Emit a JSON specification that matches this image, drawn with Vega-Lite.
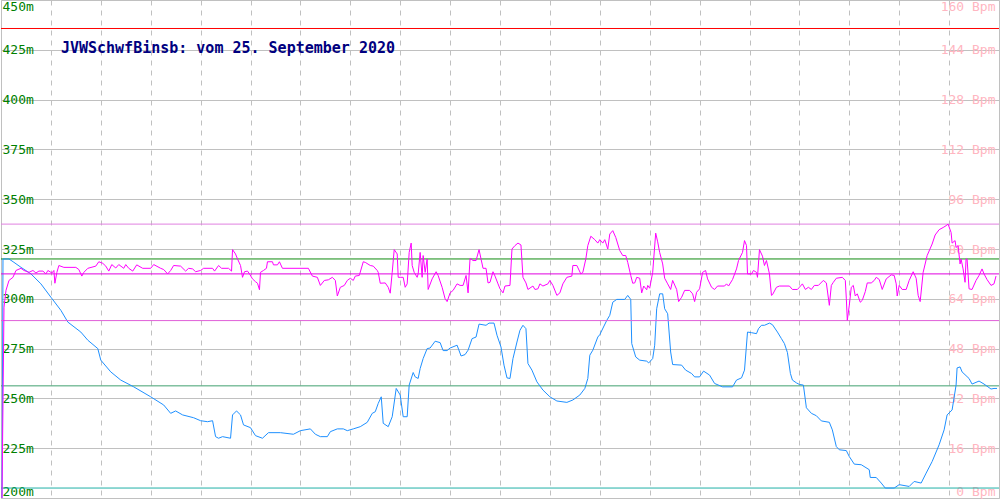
{
  "$schema": "https://vega.github.io/schema/vega-lite/v6.json",
  "width": 1000,
  "height": 500,
  "autosize": {"type": "fit", "contains": "padding"},
  "padding": 0,
  "background": "white",
  "config": {
    "view": {"stroke": "#c0c0c0"},
    "axis": {"labelFont": "DejaVu Sans Mono", "labelFontSize": 13, "labelOverlap": false}
  },
  "datasets": {
    "alt": [
      {"t":1,"alt":200},{"t":2,"alt":320},{"t":8,"alt":320},{"t":13,"alt":318.3},{"t":20,"alt":315.8},{"t":30,"alt":312.5},{"t":40,"alt":307.5},{"t":50,"alt":300.8},{"t":60,"alt":294.2},{"t":67,"alt":288.3},{"t":80,"alt":283.3},{"t":87,"alt":279.2},{"t":97,"alt":275},{"t":100,"alt":269.2},{"t":110,"alt":263.3},{"t":120,"alt":259.2},{"t":133,"alt":255.8},{"t":150,"alt":250.8},{"t":163,"alt":246.7},{"t":170,"alt":242.5},{"t":175,"alt":243.7},{"t":182,"alt":241.7},{"t":193,"alt":240.3},{"t":200,"alt":238.8},
      {"t":207,"alt":238.3},{"t":212,"alt":238.8},{"t":215,"alt":230.8},{"t":218,"alt":230},{"t":222,"alt":230.8},{"t":230,"alt":230},{"t":232,"alt":241.7},{"t":236,"alt":243.7},{"t":240,"alt":241.7},{"t":243,"alt":236.7},{"t":250,"alt":235.3},{"t":255,"alt":231.3},{"t":262,"alt":230},{"t":268,"alt":232.8},{"t":280,"alt":232.8},{"t":293,"alt":232},{"t":300,"alt":233.8},{"t":310,"alt":234.7},{"t":315,"alt":232},{"t":320,"alt":230.8},{"t":327,"alt":230.8},{"t":330,"alt":233.3},{"t":337,"alt":234.7},{"t":343,"alt":234.7},{"t":347,"alt":233.8},{"t":353,"alt":234.7},{"t":360,"alt":235.8},{"t":367,"alt":238},{"t":372,"alt":242.5},{"t":375,"alt":243.3},{"t":378,"alt":247.5},{"t":381,"alt":250.8},{"t":383,"alt":237.5},{"t":388,"alt":235.8},{"t":392,"alt":240.8},{"t":396,"alt":255},{"t":400,"alt":251.7},
      {"t":403,"alt":240.8},{"t":407,"alt":240.8},{"t":409,"alt":256.7},{"t":413,"alt":263},{"t":415,"alt":260.8},{"t":418,"alt":260},{"t":420,"alt":265},{"t":423,"alt":270},{"t":427,"alt":275},{"t":430,"alt":275.3},{"t":435,"alt":278.7},{"t":440,"alt":278},{"t":443,"alt":274},{"t":447,"alt":274},{"t":450,"alt":275.3},{"t":457,"alt":276.7},{"t":461,"alt":271.3},{"t":465,"alt":272},{"t":468,"alt":274.2},{"t":472,"alt":280},{"t":476,"alt":280.8},{"t":479,"alt":287.3},{"t":486,"alt":286.7},{"t":489,"alt":287.8},{"t":494,"alt":287.8},{"t":497,"alt":281.7},{"t":501,"alt":275.8},{"t":504,"alt":266.7},{"t":507,"alt":260.3},{"t":510,"alt":260},{"t":513,"alt":270},{"t":517,"alt":278.3},{"t":520,"alt":284.2},{"t":523,"alt":286.7},{"t":526,"alt":285},{"t":528,"alt":267.5},{"t":532,"alt":264.2},{"t":537,"alt":258.3},{"t":543,"alt":254.2},{"t":550,"alt":250.8},{"t":557,"alt":248.7},{"t":567,"alt":248},{"t":573,"alt":249.2},{"t":580,"alt":251.7},{"t":585,"alt":255},{"t":588,"alt":260},{"t":590,"alt":271.7},{"t":593,"alt":274.2},{"t":598,"alt":280.8},
      {"t":600,"alt":282},{"t":607,"alt":289.2},{"t":610,"alt":291.7},{"t":613,"alt":298.3},{"t":617,"alt":299.7},{"t":625,"alt":299.7},{"t":628,"alt":301.7},{"t":631,"alt":299.7},{"t":632,"alt":277.5},{"t":636,"alt":270.8},{"t":640,"alt":269.2},{"t":647,"alt":268.7},{"t":649,"alt":267.8},{"t":653,"alt":270},{"t":655,"alt":276.7},{"t":657,"alt":295},{"t":660,"alt":302.5},{"t":663,"alt":302.5},{"t":665,"alt":295},{"t":668,"alt":292.5},{"t":671,"alt":273.3},{"t":673,"alt":267},{"t":682,"alt":266.7},{"t":686,"alt":264.2},{"t":692,"alt":262.5},{"t":695,"alt":260.8},{"t":700,"alt":260.8},{"t":704,"alt":263.7},{"t":710,"alt":261.7},{"t":715,"alt":257.5},{"t":723,"alt":255.8},{"t":733,"alt":255.8},{"t":737,"alt":259.2},{"t":742,"alt":260.3},{"t":745,"alt":264.2},{"t":748,"alt":283.3},{"t":752,"alt":283},{"t":757,"alt":282.5},{"t":759,"alt":285},{"t":762,"alt":286.7},{"t":765,"alt":286.7},{"t":770,"alt":287.8},{"t":773,"alt":287},{"t":778,"alt":283.3},{"t":782,"alt":280},{"t":785,"alt":277.5},{"t":788,"alt":273},{"t":791,"alt":262.5},{"t":793,"alt":259.2},{"t":797,"alt":257.8},
      {"t":800,"alt":257},{"t":804,"alt":256.7},{"t":807,"alt":245.3},{"t":812,"alt":242.5},{"t":817,"alt":241.3},{"t":822,"alt":238.7},{"t":830,"alt":238},{"t":833,"alt":234.2},{"t":837,"alt":225.8},{"t":840,"alt":224.2},{"t":847,"alt":223.8},{"t":850,"alt":220.8},{"t":855,"alt":217},{"t":862,"alt":216.7},{"t":870,"alt":214.2},{"t":871,"alt":210.3},{"t":877,"alt":210.3},{"t":882,"alt":207.5},{"t":886,"alt":205},{"t":895,"alt":205},{"t":900,"alt":206.7},{"t":910,"alt":205.8},{"t":915,"alt":208.3},{"t":922,"alt":207.5},{"t":927,"alt":212.5},{"t":933,"alt":218.3},{"t":940,"alt":226.7},{"t":945,"alt":234.2},{"t":948,"alt":241.7},{"t":953,"alt":244.2},{"t":957,"alt":256.7},{"t":958,"alt":265.3},{"t":961,"alt":265.8},{"t":963,"alt":263.3},{"t":970,"alt":260},{"t":973,"alt":257.2},{"t":980,"alt":258.7},{"t":985,"alt":257.2},{"t":992,"alt":254.7},{"t":995,"alt":255},{"t":998,"alt":255}
    ],
    "hr": [
      {"t":1,"hr":0},{"t":3,"hr":61.3},{"t":5,"hr":66.7},{"t":8,"hr":69.9},{"t":12,"hr":70.9},{"t":15,"hr":73.1},{"t":20,"hr":73.8},{"t":23,"hr":73.1},{"t":28,"hr":72.5},{"t":32,"hr":73.1},{"t":35,"hr":72.3},{"t":38,"hr":72.9},{"t":42,"hr":72.9},{"t":45,"hr":72.0},{"t":47,"hr":73.1},{"t":51,"hr":72.3},{"t":53,"hr":73.1},{"t":54,"hr":69.0},{"t":56,"hr":72.5},{"t":58,"hr":74.7},{"t":63,"hr":74.1},{"t":75,"hr":74.1},{"t":78,"hr":73.4},{"t":81,"hr":71.3},{"t":83,"hr":72.5},{"t":87,"hr":73.8},{"t":95,"hr":74.5},{"t":98,"hr":75.9},{"t":102,"hr":75.4},{"t":105,"hr":74.5},{"t":108,"hr":72.9},{"t":111,"hr":75.0},{"t":115,"hr":73.9},{"t":118,"hr":75.0},{"t":123,"hr":73.8},{"t":125,"hr":75.0},{"t":128,"hr":73.8},{"t":132,"hr":72.9},{"t":136,"hr":74.9},{"t":142,"hr":73.8},{"t":150,"hr":73.8},{"t":153,"hr":75.0},{"t":160,"hr":73.8},{"t":163,"hr":73.4},{"t":167,"hr":72.0},{"t":170,"hr":73.1},{"t":173,"hr":74.7},{"t":180,"hr":74.5},{"t":185,"hr":72.9},{"t":188,"hr":73.8},{"t":192,"hr":73.6},{"t":195,"hr":72.7},{"t":200,"hr":73.1},
      {"t":203,"hr":73.8},{"t":212,"hr":73.8},{"t":214,"hr":72.9},{"t":218,"hr":74.7},{"t":221,"hr":73.8},{"t":228,"hr":73.8},{"t":231,"hr":72.9},{"t":232,"hr":79.8},{"t":235,"hr":78.4},{"t":237,"hr":76.8},{"t":240,"hr":74.7},{"t":242,"hr":70.9},{"t":244,"hr":72.7},{"t":247,"hr":72.9},{"t":249,"hr":72.0},{"t":252,"hr":70.4},{"t":255,"hr":69.5},{"t":257,"hr":69.0},{"t":259,"hr":66.9},{"t":260,"hr":72.5},{"t":263,"hr":73.1},{"t":266,"hr":73.8},{"t":267,"hr":75.9},{"t":272,"hr":75.9},{"t":273,"hr":74.9},{"t":277,"hr":74.9},{"t":279,"hr":75.9},{"t":282,"hr":73.8},{"t":308,"hr":73.8},{"t":312,"hr":71.3},{"t":317,"hr":70.9},{"t":320,"hr":68.3},{"t":324,"hr":69.9},{"t":328,"hr":70.1},{"t":332,"hr":70.9},{"t":335,"hr":69.9},{"t":337,"hr":64.9},{"t":340,"hr":67.7},{"t":344,"hr":68.3},{"t":347,"hr":69.9},{"t":350,"hr":70.6},{"t":353,"hr":69.9},{"t":355,"hr":71.3},{"t":359,"hr":71.5},{"t":363,"hr":75.9},{"t":365,"hr":75.7},{"t":370,"hr":74.7},{"t":373,"hr":74.5},{"t":377,"hr":73.1},{"t":378,"hr":72.5},{"t":380,"hr":69.0},{"t":385,"hr":69.1},{"t":388,"hr":67.7},{"t":390,"hr":65.8},{"t":392,"hr":72.5},{"t":394,"hr":79.8},{"t":397,"hr":78.4},{"t":398,"hr":70.9},{"t":400,"hr":70.9},
      {"t":403,"hr":70.9},{"t":405,"hr":67.7},{"t":407,"hr":68.8},{"t":409,"hr":78.9},{"t":411,"hr":81.9},{"t":412,"hr":74.7},{"t":414,"hr":72.5},{"t":417,"hr":70.9},{"t":418,"hr":72.0},{"t":420,"hr":78.9},{"t":422,"hr":70.9},{"t":423,"hr":77.9},{"t":425,"hr":72.5},{"t":427,"hr":76.8},{"t":428,"hr":67.0},{"t":432,"hr":70.4},{"t":436,"hr":72.7},{"t":438,"hr":71.5},{"t":442,"hr":67.7},{"t":445,"hr":64.0},{"t":447,"hr":63.1},{"t":450,"hr":65.9},{"t":453,"hr":66.7},{"t":457,"hr":68.8},{"t":460,"hr":68.3},{"t":463,"hr":68.3},{"t":466,"hr":71.5},{"t":468,"hr":65.9},{"t":470,"hr":77.0},{"t":473,"hr":76.3},{"t":476,"hr":76.3},{"t":479,"hr":79.8},{"t":483,"hr":73.8},{"t":486,"hr":73.8},{"t":488,"hr":69.1},{"t":490,"hr":69.3},{"t":493,"hr":72.7},{"t":495,"hr":71.3},{"t":498,"hr":68.8},{"t":500,"hr":67.2},{"t":503,"hr":65.9},{"t":505,"hr":68.1},{"t":510,"hr":68.3},{"t":512,"hr":80.0},{"t":515,"hr":81.1},{"t":518,"hr":81.9},{"t":521,"hr":81.3},{"t":523,"hr":70.9},{"t":526,"hr":69.1},{"t":528,"hr":67.0},{"t":533,"hr":68.1},{"t":535,"hr":67.0},{"t":538,"hr":67.2},{"t":540,"hr":68.8},{"t":543,"hr":68.1},{"t":548,"hr":68.8},{"t":550,"hr":69.9},{"t":553,"hr":68.3},{"t":557,"hr":65.1},{"t":560,"hr":65.9},{"t":563,"hr":68.8},{"t":567,"hr":70.9},{"t":572,"hr":71.3},{"t":573,"hr":74.7},{"t":577,"hr":74.7},{"t":581,"hr":72.0},{"t":583,"hr":72.5},{"t":586,"hr":76.8},{"t":588,"hr":81.1},{"t":591,"hr":84.1},{"t":595,"hr":83.0},{"t":598,"hr":81.9},
      {"t":600,"hr":83.0},{"t":603,"hr":81.9},{"t":605,"hr":83.0},{"t":608,"hr":80.0},{"t":610,"hr":84.8},{"t":613,"hr":85.9},{"t":616,"hr":83.7},{"t":620,"hr":79.5},{"t":623,"hr":77.9},{"t":626,"hr":77.9},{"t":628,"hr":75.7},{"t":631,"hr":71.5},{"t":633,"hr":69.0},{"t":635,"hr":69.1},{"t":637,"hr":70.9},{"t":640,"hr":70.6},{"t":642,"hr":65.9},{"t":644,"hr":68.1},{"t":647,"hr":66.9},{"t":648,"hr":68.3},{"t":650,"hr":67.4},{"t":653,"hr":72.5},{"t":656,"hr":85.1},{"t":658,"hr":82.3},{"t":660,"hr":78.9},{"t":663,"hr":75.2},{"t":665,"hr":70.6},{"t":668,"hr":68.8},{"t":671,"hr":67.0},{"t":673,"hr":69.9},{"t":677,"hr":67.0},{"t":679,"hr":63.1},{"t":682,"hr":64.5},{"t":685,"hr":66.7},{"t":690,"hr":66.7},{"t":693,"hr":65.6},{"t":695,"hr":63.1},{"t":697,"hr":66.1},{"t":700,"hr":67.2},{"t":703,"hr":72.5},{"t":706,"hr":73.1},{"t":708,"hr":70.4},{"t":712,"hr":67.7},{"t":715,"hr":67.0},{"t":718,"hr":68.1},{"t":725,"hr":68.1},{"t":727,"hr":68.8},{"t":729,"hr":68.1},{"t":733,"hr":70.2},{"t":737,"hr":73.6},{"t":739,"hr":76.3},{"t":743,"hr":78.9},{"t":745,"hr":82.7},{"t":747,"hr":81.1},{"t":748,"hr":72.0},{"t":752,"hr":72.0},{"t":754,"hr":73.1},{"t":757,"hr":72.5},{"t":758,"hr":70.9},{"t":760,"hr":79.8},{"t":763,"hr":77.7},{"t":765,"hr":74.7},{"t":767,"hr":76.3},{"t":770,"hr":72.0},{"t":772,"hr":65.1},{"t":773,"hr":65.3},{"t":777,"hr":67.7},{"t":780,"hr":68.1},{"t":790,"hr":68.1},{"t":793,"hr":67.0},{"t":798,"hr":67.0},
      {"t":800,"hr":67.7},{"t":803,"hr":68.8},{"t":806,"hr":67.0},{"t":809,"hr":67.7},{"t":812,"hr":67.0},{"t":815,"hr":68.3},{"t":819,"hr":68.3},{"t":824,"hr":69.9},{"t":827,"hr":69.1},{"t":830,"hr":61.9},{"t":832,"hr":68.3},{"t":834,"hr":69.3},{"t":837,"hr":70.6},{"t":843,"hr":70.9},{"t":846,"hr":69.9},{"t":847,"hr":64.2},{"t":848,"hr":57.1},{"t":850,"hr":61.9},{"t":852,"hr":67.7},{"t":854,"hr":68.3},{"t":856,"hr":64.9},{"t":858,"hr":65.6},{"t":861,"hr":62.9},{"t":863,"hr":63.5},{"t":866,"hr":66.3},{"t":868,"hr":69.1},{"t":872,"hr":69.1},{"t":875,"hr":69.9},{"t":877,"hr":70.9},{"t":880,"hr":70.2},{"t":883,"hr":67.0},{"t":887,"hr":70.4},{"t":892,"hr":71.7},{"t":895,"hr":71.5},{"t":897,"hr":68.8},{"t":898,"hr":64.9},{"t":900,"hr":68.3},{"t":903,"hr":67.0},{"t":907,"hr":67.0},{"t":910,"hr":69.9},{"t":914,"hr":72.7},{"t":917,"hr":70.6},{"t":919,"hr":65.1},{"t":921,"hr":63.1},{"t":924,"hr":72.5},{"t":928,"hr":77.9},{"t":933,"hr":81.6},{"t":936,"hr":84.5},{"t":940,"hr":86.2},{"t":944,"hr":86.9},{"t":947,"hr":87.5},{"t":949,"hr":88.0},{"t":952,"hr":85.3},{"t":953,"hr":81.9},{"t":956,"hr":82.7},{"t":957,"hr":80.5},{"t":959,"hr":81.1},{"t":961,"hr":75.2},{"t":962,"hr":76.8},{"t":964,"hr":73.6},{"t":966,"hr":69.3},{"t":967,"hr":76.8},{"t":968,"hr":76.8},{"t":970,"hr":67.2},{"t":973,"hr":67.0},{"t":977,"hr":69.9},{"t":980,"hr":71.5},{"t":983,"hr":73.6},{"t":985,"hr":72.0},{"t":988,"hr":70.2},{"t":992,"hr":68.3},{"t":995,"hr":68.8},{"t":997,"hr":71.3}
    ],
    "altref": [
      {"kind": "limit", "alt": 435.7},
      {"kind": "max", "alt": 320},
      {"kind": "avg", "alt": 256.3},
      {"kind": "min", "alt": 205}
    ],
    "hrref": [
      {"kind": "max", "hr": 88},
      {"kind": "avg", "hr": 72},
      {"kind": "min", "hr": 57}
    ],
    "caption": [
      {"text": "JVWSchwfBinsb: vom 25. September 2020"}
    ]
  },
  "layer": [
    {
      "layer": [
        {
          "data": {"name": "altref"},
          "mark": {"type": "rule", "strokeWidth": 1},
          "encoding": {
            "y": {
              "field": "alt",
              "type": "quantitative",
              "scale": {"domain": [200, 450], "nice": false, "zero": false},
              "axis": {
                "orient": "left",
                "values": [200, 225, 250, 275, 300, 325, 350, 375, 400, 425, 450],
                "grid": true,
                "gridColor": "#c0c0c0",
                "gridWidth": 1,
                "domain": false,
                "ticks": false,
                "tickSize": 0,
                "labelAlign": "left",
                "labelPadding": -1,
                "labelColor": "#008000",
                "labelFlush": true,
                "labelExpr": "datum.value + 'm'",
                "title": null
              }
            },
            "color": {
              "field": "kind",
              "type": "nominal",
              "scale": {"domain": ["limit", "max", "avg", "min"], "range": ["#ff0000", "#108a10", "#40a070", "#20b0a8"]},
              "legend": null
            }
          }
        },
        {
          "data": {"name": "alt"},
          "mark": {"type": "line", "color": "#1e90ff", "strokeWidth": 1},
          "encoding": {
            "x": {
              "field": "t",
              "type": "quantitative",
              "scale": {"domain": [0, 1000], "nice": false, "zero": false},
              "axis": {
                "orient": "bottom",
                "values": [50, 100, 150, 200, 250, 300, 350, 400, 450, 500, 550, 600, 650, 700, 750, 800, 850, 900, 950],
                "grid": true,
                "gridDash": [5, 5],
                "gridColor": "#c0c0c0",
                "labels": false,
                "ticks": false,
                "domain": false,
                "title": null
              }
            },
            "y": {"field": "alt", "type": "quantitative", "scale": {"domain": [200, 450], "nice": false, "zero": false}}
          }
        },
        {
          "data": {"name": "caption"},
          "mark": {"type": "text", "align": "left", "baseline": "alphabetic", "font": "DejaVu Sans Mono", "fontSize": 15, "fontWeight": "bold", "color": "#000080"},
          "encoding": {
            "x": {"datum": 60, "type": "quantitative"},
            "y": {"datum": 423.5, "type": "quantitative"},
            "text": {"field": "text", "type": "nominal"}
          }
        }
      ]
    },
    {
      "layer": [
        {
          "data": {"name": "hrref"},
          "mark": {"type": "rule", "strokeWidth": 1},
          "encoding": {
            "y": {
              "field": "hr",
              "type": "quantitative",
              "scale": {"domain": [0, 160], "nice": false, "zero": false},
              "axis": {
                "orient": "right",
                "values": [0, 16, 32, 48, 64, 80, 96, 112, 128, 144, 160],
                "grid": false,
                "domain": false,
                "ticks": false,
                "tickSize": 0,
                "labelAlign": "right",
                "labelPadding": -4,
                "labelColor": "#ffb6c1",
                "labelFlush": true,
                "labelExpr": "datum.value + ' Bpm'",
                "title": null
              }
            },
            "color": {
              "field": "kind",
              "type": "nominal",
              "scale": {"domain": ["max", "avg", "min"], "range": ["#e080e0", "#e000e0", "#e060d8"]},
              "legend": null
            }
          }
        },
        {
          "data": {"name": "hr"},
          "mark": {"type": "line", "color": "#ff00ff", "strokeWidth": 1},
          "encoding": {
            "x": {"field": "t", "type": "quantitative", "scale": {"domain": [0, 1000], "nice": false, "zero": false}},
            "y": {"field": "hr", "type": "quantitative", "scale": {"domain": [0, 160], "nice": false, "zero": false}}
          }
        }
      ]
    }
  ],
  "resolve": {"scale": {"y": "independent", "color": "independent"}, "axis": {"y": "independent"}}
}
